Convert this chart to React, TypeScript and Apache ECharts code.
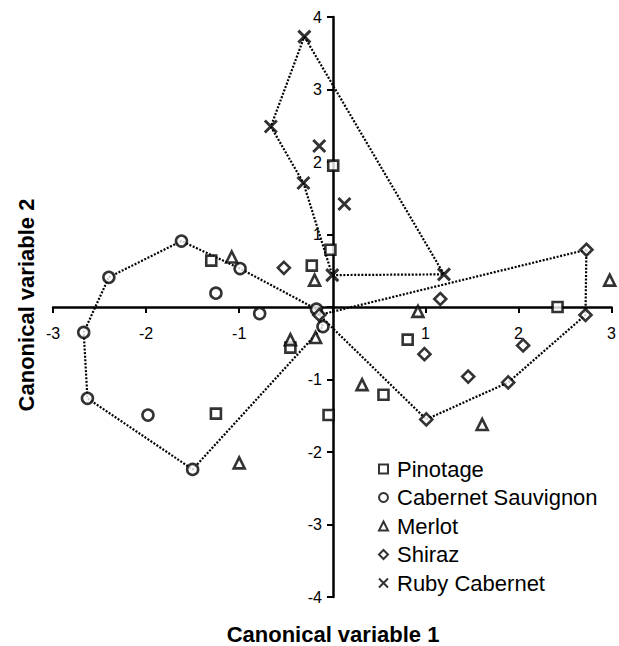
import React, { useEffect, useRef } from "react";
import * as echarts from "echarts";

// Canonical scores: [canonical variable 1, canonical variable 2]
const pinotage: number[][] = [
  [0.01, 1.95], [-0.02, 0.79], [-0.22, 0.57], [-1.3, 0.64], [2.42, 0.0],
  [0.81, -0.45], [0.55, -1.21], [-1.25, -1.47], [-0.04, -1.49], [-0.45, -0.56],
];
const cabernetSauvignon: number[][] = [
  [-1.62, 0.91], [-2.4, 0.41], [-0.99, 0.53], [-1.25, 0.19], [-0.78, -0.09],
  [-2.67, -0.35], [-2.63, -1.26], [-1.98, -1.49], [-1.5, -2.24], [-0.17, -0.03], [-0.1, -0.27],
];
const merlot: number[][] = [
  [-1.08, 0.69], [-0.19, 0.37], [2.98, 0.37], [0.92, -0.06], [-0.45, -0.45],
  [-0.18, -0.42], [0.32, -1.07], [1.61, -1.62], [-1.0, -2.15],
];
const shiraz: number[][] = [
  [-0.52, 0.54], [2.73, 0.79], [1.16, 0.11], [2.72, -0.11], [-0.14, -0.11],
  [0.99, -0.65], [2.05, -0.53], [1.46, -0.96], [1.89, -1.04], [1.01, -1.55],
];
const rubyCabernet: number[][] = [
  [-0.3, 3.73], [-0.66, 2.49], [-0.14, 2.22], [-0.31, 1.71], [0.13, 1.42], [0.0, 0.44], [1.2, 0.45],
];

// Dotted outlines drawn around three cultivars
const cabernetHull: number[][] = [
  [-2.4, 0.41], [-1.62, 0.91], [-0.99, 0.53], [-0.17, -0.03], [-0.1, -0.27],
  [-1.5, -2.24], [-2.63, -1.26], [-2.67, -0.35], [-2.4, 0.41],
];
const shirazHull: number[][] = [
  [2.73, 0.79], [2.72, -0.11], [1.89, -1.04], [1.01, -1.55], [-0.14, -0.11], [2.73, 0.79],
];
const rubyHull: number[][] = [
  [-0.3, 3.73], [1.2, 0.45], [0.0, 0.44], [-0.31, 1.71], [-0.66, 2.49], [-0.3, 3.73],
];

const seriesNames = ["Pinotage", "Cabernet Sauvignon", "Merlot", "Shiraz", "Ruby Cabernet"];
const xTitle = "Canonical variable 1";
const yTitle = "Canonical variable 2";
const xRange = [-3, 3];
const yRange = [-4, 4];

const CROSS = "path://M0,0L10,10M10,0L0,10";
const FONT = "Liberation Sans, Arial, Helvetica, sans-serif";

const GRID = { left: 53, right: 6, top: 17, bottom: 49 };
const W = 619;
const H = 646;

export default function App() {
  const ref = useRef<HTMLDivElement>(null);

  useEffect(() => {
    if (!ref.current) return;
    const chart = echarts.init(ref.current, undefined, { renderer: "svg" });

    // place the axes through the origin (axes cross at zero)
    const gw = W - GRID.left - GRID.right;
    const gh = H - GRID.top - GRID.bottom;
    const xOffset = -gh * (0 - yRange[0]) / (yRange[1] - yRange[0]);
    const yOffset = -gw * (0 - xRange[0]) / (xRange[1] - xRange[0]);

    const pointStyle = { color: "#fff", borderColor: "#000", borderWidth: 2.6 };
    const scatter = (name: string, data: number[][], symbol: string, size: number, extra: any = {}) => ({
      name,
      type: "scatter",
      data,
      symbol,
      symbolSize: size,
      itemStyle: { ...pointStyle, ...extra },
      emphasis: { disabled: true },
      z: 3,
    });
    const hull = (data: number[][]) => ({
      type: "line",
      data,
      symbol: "none",
      silent: true,
      lineStyle: { color: "#000", width: 2.2, type: [2, 1.6] },
      z: 2,
    });

    const axisCommon = {
      type: "value",
      interval: 1,
      splitLine: { show: false },
      axisLine: { onZero: false, lineStyle: { color: "#000", width: 2.5 } },
      axisTick: { show: true, length: 6, lineStyle: { color: "#000", width: 2 } },
    };

    chart.setOption({
      animation: false,
      backgroundColor: "#fff",
      grid: { ...GRID, containLabel: false },
      xAxis: {
        ...axisCommon,
        min: xRange[0],
        max: xRange[1],
        offset: xOffset,
        axisLabel: {
          margin: 18,
          color: "#000",
          fontSize: 16,
          fontFamily: FONT,
          formatter: (v: number) => (v === 0 ? "" : String(v)),
        },
      },
      yAxis: {
        ...axisCommon,
        min: yRange[0],
        max: yRange[1],
        offset: yOffset,
        axisLabel: {
          margin: 11,
          color: "#000",
          fontSize: 16,
          fontFamily: FONT,
          formatter: (v: number) => (v === 0 ? "" : String(v)),
        },
      },
      legend: {
        data: seriesNames,
        orient: "vertical",
        left: 373,
        top: 453,
        itemWidth: 9,
        itemHeight: 9,
        itemGap: 6.5,
        textStyle: {
          fontSize: 22,
          lineHeight: 22,
          fontFamily: FONT,
          color: "#000",
          padding: [0, 0, 0, 4],
        },
        selectedMode: false,
      },
      graphic: [
        {
          type: "text",
          x: 333,
          y: 634,
          style: {
            text: xTitle,
            fontSize: 22,
            fontWeight: "bold",
            fontFamily: FONT,
            fill: "#000",
            textAlign: "center",
            textVerticalAlign: "middle",
          },
        },
        {
          type: "text",
          x: 26,
          y: 305,
          rotation: Math.PI / 2,
          style: {
            text: yTitle,
            fontSize: 22,
            fontWeight: "bold",
            fontFamily: FONT,
            fill: "#000",
            textAlign: "center",
            textVerticalAlign: "middle",
          },
        },
      ],
      series: [
        hull(cabernetHull),
        hull(shirazHull),
        hull(rubyHull),
        scatter(seriesNames[0], pinotage, "rect", 10),
        scatter(seriesNames[1], cabernetSauvignon, "circle", 11),
        scatter(seriesNames[2], merlot, "triangle", 11),
        scatter(seriesNames[3], shiraz, "diamond", 12),
        scatter(seriesNames[4], rubyCabernet, CROSS, 12, { borderWidth: 3 }),
      ],
    });

    return () => chart.dispose();
  }, []);

  return (
    <div
      ref={ref}
      style={{ position: "fixed", left: 0, top: 0, width: W, height: H, background: "#fff" }}
    />
  );
}
